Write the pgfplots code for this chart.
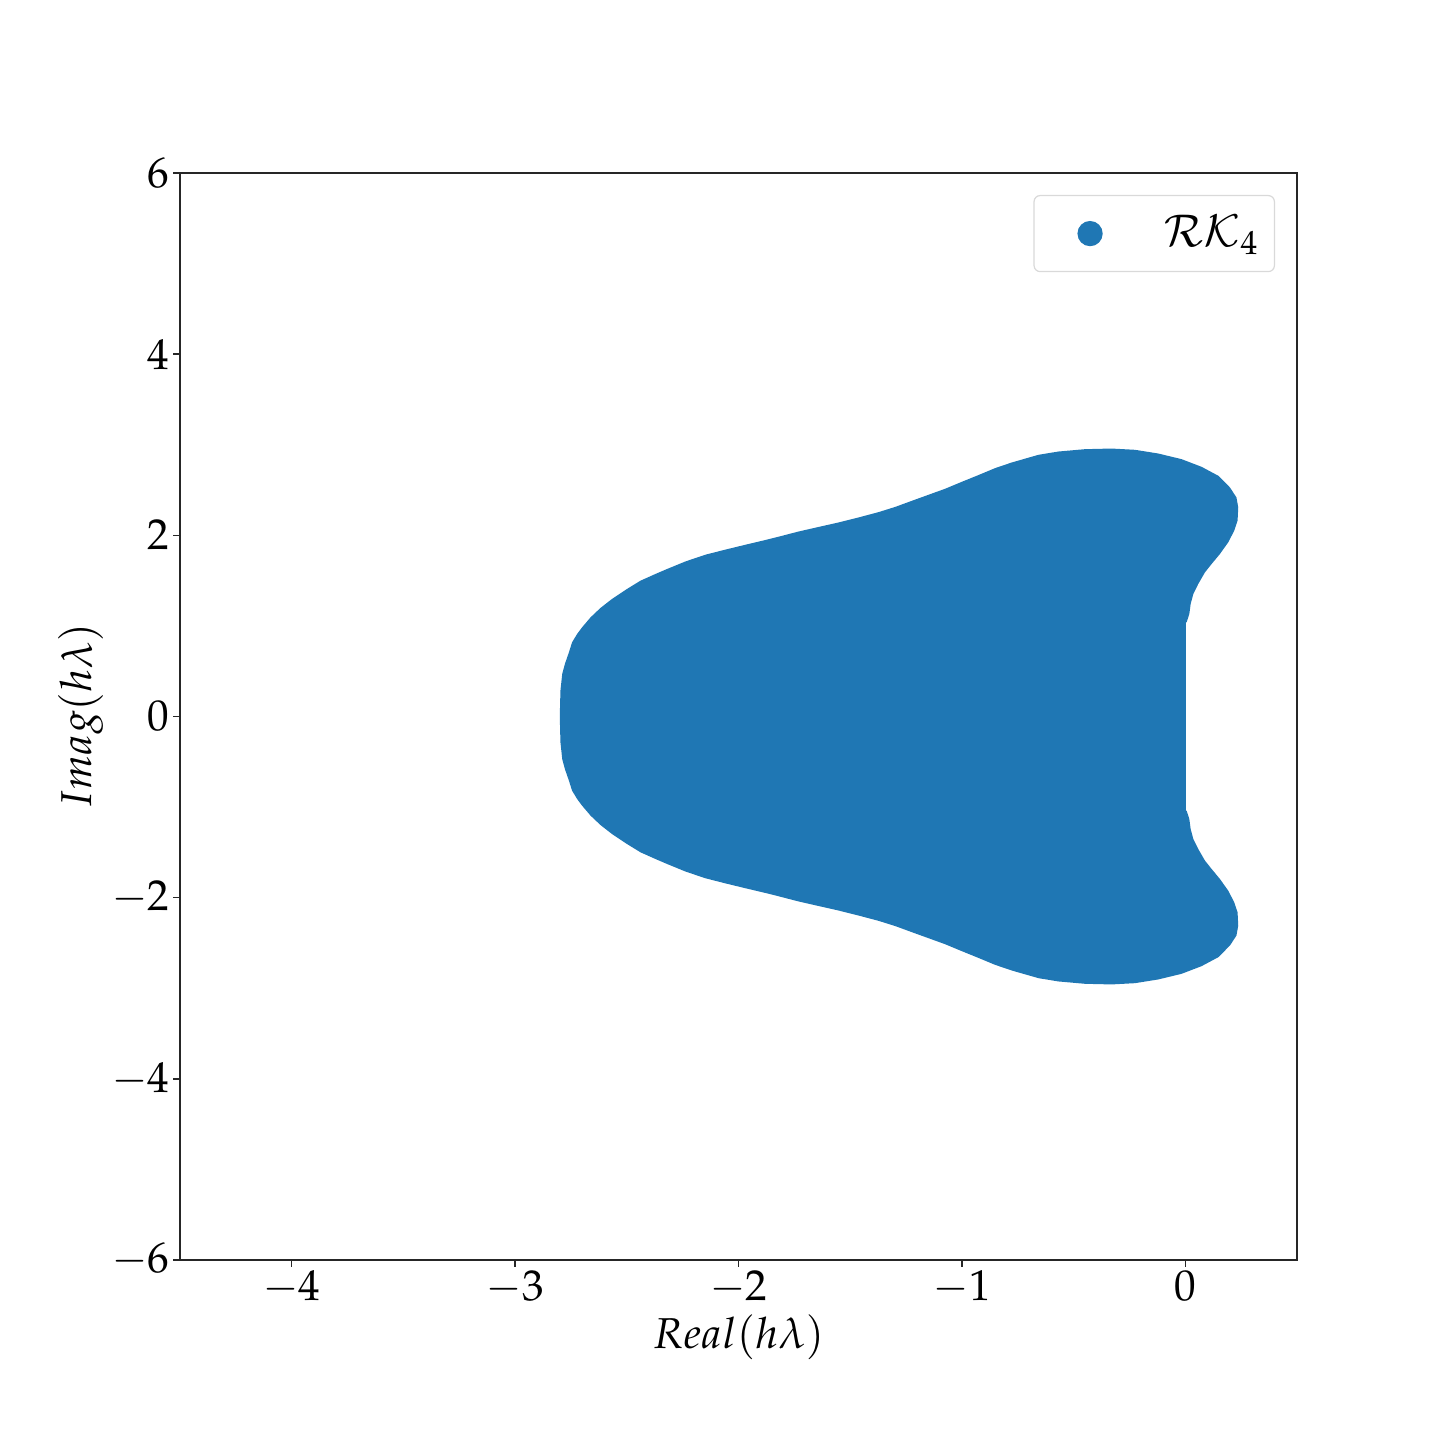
\documentclass[border=0pt]{standalone}
\usepackage[T1]{fontenc}
\usepackage{mathpazo}
\usepackage{pgfplots}
\pgfplotsset{compat=1.18}
\usetikzlibrary{calc}
\definecolor{c0}{HTML}{1F77B4}

% boundary of the region (upper half, then lower half)
\pgfplotstableread{
x y
-2.800 0.000
-2.797 0.287
-2.789 0.471
-2.777 0.581
-2.759 0.709
-2.745 0.819
-2.722 0.912
-2.700 0.985
-2.662 1.095
-2.618 1.198
-2.566 1.298
-2.499 1.408
-2.439 1.499
-2.372 1.573
-2.320 1.628
-2.237 1.712
-2.148 1.786
-2.059 1.842
-1.969 1.896
-1.880 1.948
-1.820 1.985
-1.731 2.042
-1.642 2.092
-1.552 2.142
-1.463 2.197
-1.373 2.256
-1.298 2.314
-1.224 2.381
-1.149 2.448
-1.075 2.514
-1.000 2.591
-0.926 2.665
-0.851 2.742
-0.777 2.804
-0.657 2.889
-0.568 2.925
-0.449 2.951
-0.330 2.958
-0.225 2.944
-0.121 2.903
-0.017 2.841
0.073 2.756
0.148 2.657
0.200 2.528
0.229 2.418
0.237 2.308
0.234 2.161
0.219 2.051
0.192 1.922
0.155 1.794
0.118 1.684
0.088 1.591
0.058 1.463
0.036 1.353
0.024 1.243
0.018 1.132
0.006 1.040
0.003 1.040
0.003 0.000
0.003 -1.040
0.006 -1.040
0.018 -1.132
0.024 -1.243
0.036 -1.353
0.058 -1.463
0.088 -1.591
0.118 -1.684
0.155 -1.794
0.192 -1.922
0.219 -2.051
0.234 -2.161
0.237 -2.308
0.229 -2.418
0.200 -2.528
0.148 -2.657
0.073 -2.756
-0.017 -2.841
-0.121 -2.903
-0.225 -2.944
-0.330 -2.958
-0.449 -2.951
-0.568 -2.925
-0.657 -2.889
-0.777 -2.804
-0.851 -2.742
-0.926 -2.665
-1.000 -2.591
-1.075 -2.514
-1.149 -2.448
-1.224 -2.381
-1.298 -2.314
-1.373 -2.256
-1.463 -2.197
-1.552 -2.142
-1.642 -2.092
-1.731 -2.042
-1.820 -1.985
-1.880 -1.948
-1.969 -1.896
-2.059 -1.842
-2.148 -1.786
-2.237 -1.712
-2.320 -1.628
-2.372 -1.573
-2.439 -1.499
-2.499 -1.408
-2.566 -1.298
-2.618 -1.198
-2.662 -1.095
-2.700 -0.985
-2.722 -0.912
-2.745 -0.819
-2.759 -0.709
-2.777 -0.581
-2.789 -0.471
-2.797 -0.287
}\region

\begin{document}
\begin{tikzpicture}
\begin{axis}[
    scale only axis,
    width=279.25pt,
    height=271.75pt,
    xmin=-4.5, xmax=0.5,
    ymin=-6, ymax=6,
    xtick={-4,-3,-2,-1,0},
    ytick={-6,-4,-2,0,2,4,6},
    tick align=outside,
    tick pos=left,
    major tick length=1.75pt,
    axis line style={line width=0.35pt, black!85},
    tick style={line width=0.35pt, black!85},
    tick label style={font=\fontsize{10.8}{12}\selectfont, inner sep=0.75pt},
    label style={font=\fontsize{10.8}{12}\selectfont, inner sep=0pt},
    xlabel style={yshift=-1.5pt},
    ylabel style={yshift=1pt},
    xlabel={$Real(h\lambda)$},
    ylabel={$Imag(h\lambda)$},
    legend style={at={(rel axis cs:1,1)}, anchor=north east,
        xshift=-5.5pt, yshift=-5.5pt,
        draw=black!15, rounded corners=1.5pt, line width=0.3pt,
        inner xsep=3.75pt, inner ysep=0pt, column sep=0pt,
        font=\fontsize{11}{12}\selectfont,
        nodes={inner sep=0pt}},
]
\addplot[fill=c0, draw=none, forget plot] table {\region} -- cycle;
\addlegendimage{legend image code/.code={
    \path[draw=none, fill=none] (-10.25pt,-9.5pt) rectangle (18.5pt,9.5pt);
    \fill[c0] (0pt,0pt) circle (3pt);}}
\addlegendentry{$\mathcal{RK}_4$}
\end{axis}
\path ($(current axis.south west)+(-45pt,-45pt)$) rectangle ($(current axis.north east)+(35.75pt,43.25pt)$);
\end{tikzpicture}
\end{document}
